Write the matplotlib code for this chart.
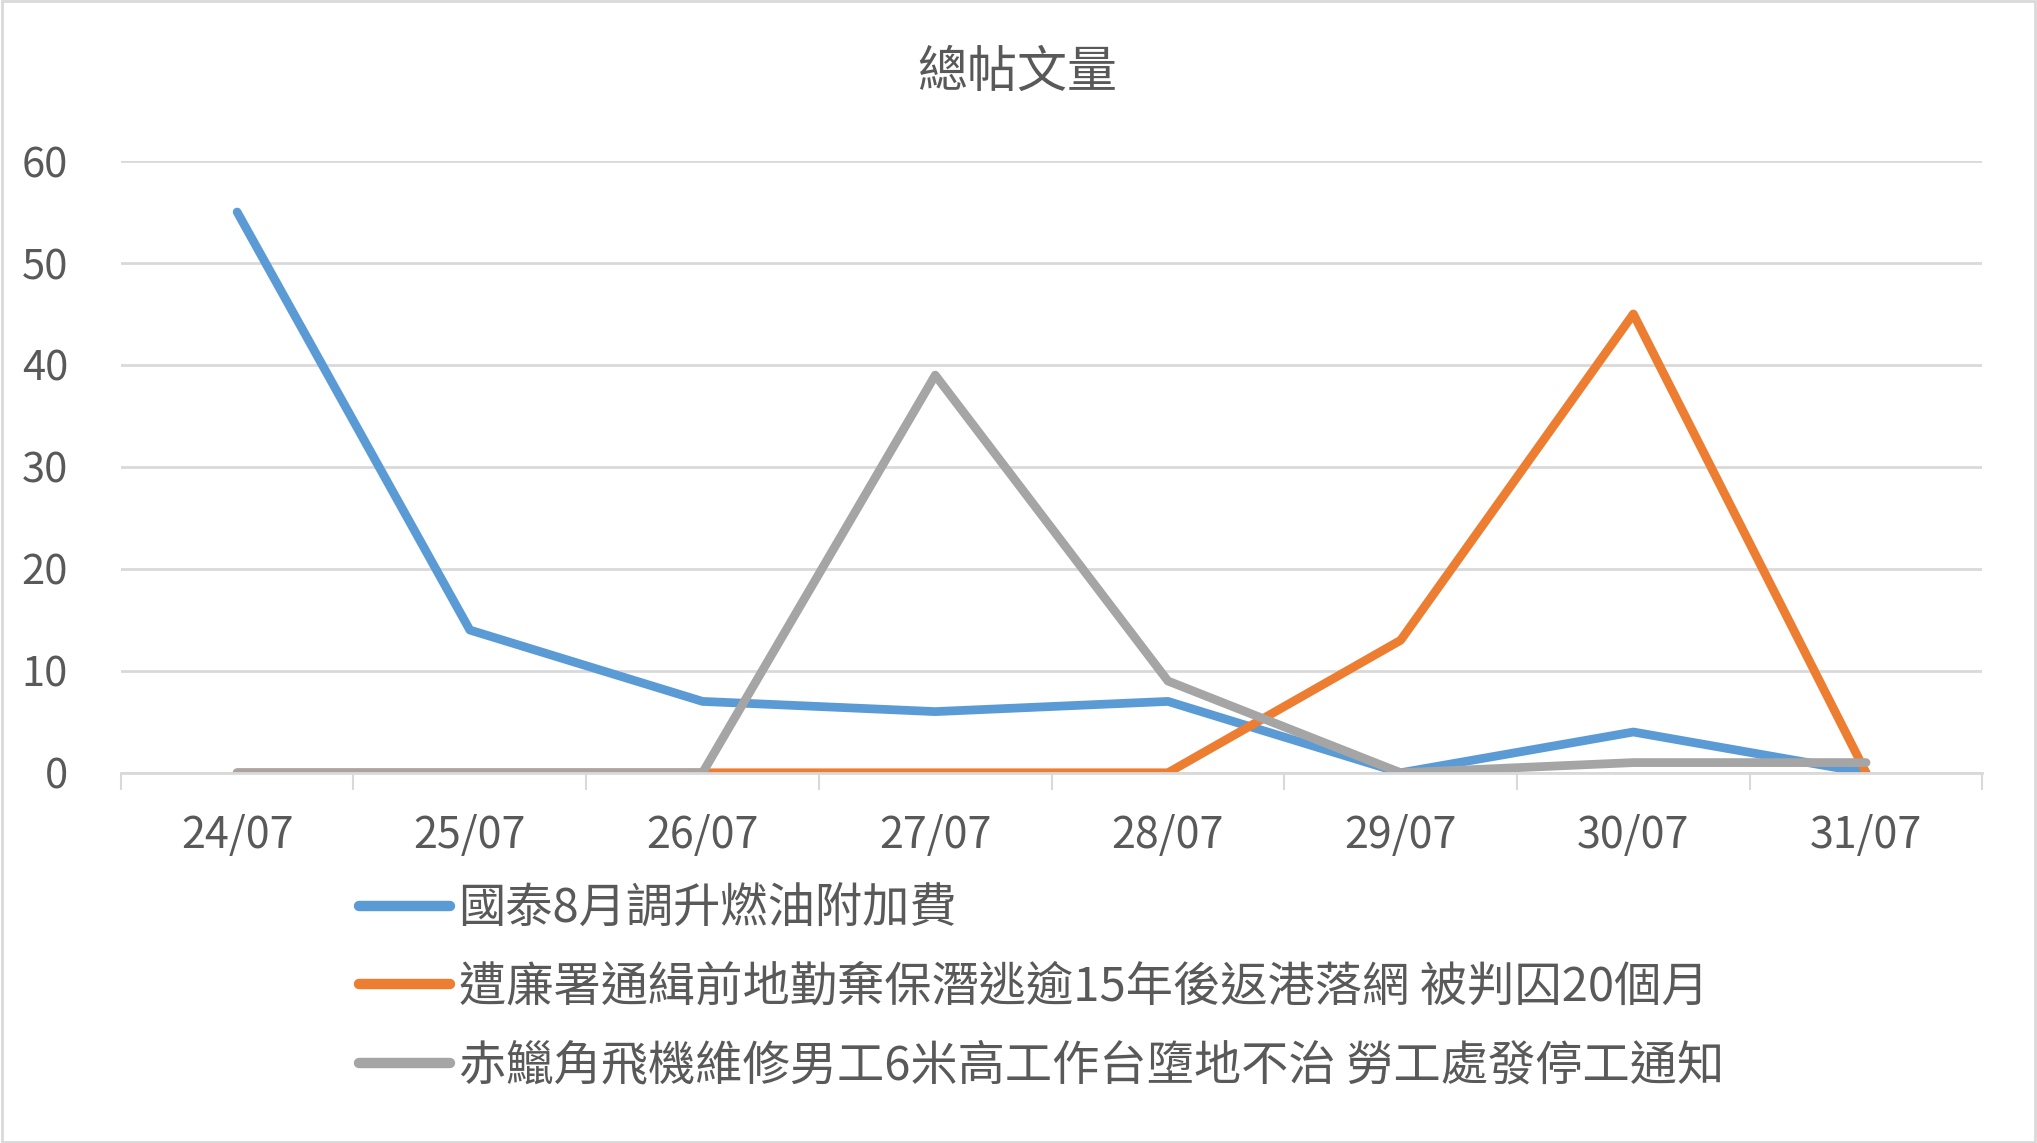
import matplotlib
matplotlib.use("Agg")
import matplotlib.pyplot as plt
from matplotlib.patches import Rectangle
import numpy as np

plt.rcParams['font.family'] = ['Noto Sans CJK TC', 'DejaVu Sans']

title = "總帖文量"
dates = ["24/07", "25/07", "26/07", "27/07", "28/07", "29/07", "30/07", "31/07"]
series_names = [
    "國泰8月調升燃油附加費",
    "遭廉署通緝前地勤棄保潛逃逾15年後返港落網 被判囚20個月",
    "赤鱲角飛機維修男工6米高工作台墮地不治 勞工處發停工通知",
]
cathay = [55, 14, 7, 6, 7, 0, 4, 0]
icac = [0, 0, 0, 0, 0, 13, 45, 0]
airport = [0, 0, 0, 39, 9, 0, 1, 1]
colors = ["#5B9BD5", "#ED7D31", "#A5A5A5"]
yticks = [0, 10, 20, 30, 40, 50, 60]

text_color = "#595959"
grid_color = "#D9D9D9"

fig = plt.figure(figsize=(20.37, 11.43), dpi=100)
ax = fig.add_axes([0.0593, 0.3239, 0.9139, 0.5352])

x = np.arange(len(dates))
for vals, name, c in zip([cathay, icac, airport], series_names, colors):
    ax.plot(x, vals, color=c, lw=6.3, label=name,
            solid_capstyle='round', solid_joinstyle='round')

ax.set_xlim(-0.5, len(dates) - 0.5)
ax.set_ylim(0, 60)
ax.set_yticks(yticks)
ax.set_yticklabels([str(v) for v in yticks], fontsize=30, color=text_color)
ax.tick_params(axis='y', length=0, pad=38)
ax.yaxis.grid(True, color=grid_color, lw=2)
ax.set_axisbelow(True)

# category boundaries as major ticks, labels at centers as minor ticks
ax.set_xticks(np.arange(-0.5, len(dates), 1.0))
ax.set_xticklabels([])
ax.tick_params(axis='x', which='major', length=12, width=1.5, color=grid_color)
ax.set_xticks(x, minor=True)
ax.set_xticklabels(dates, minor=True, fontsize=31, color=text_color)
ax.tick_params(axis='x', which='minor', length=0, pad=30)

for s in ['top', 'right', 'left']:
    ax.spines[s].set_visible(False)
ax.spines['bottom'].set_color(grid_color)
ax.spines['bottom'].set_linewidth(2)

fig.text(0.4994, 0.936, title, ha='center', va='center', fontsize=36,
         color=text_color)

leg = fig.legend(loc='upper left', bbox_to_anchor=(0.176, 0.226),
                 frameon=False, fontsize=34, handlelength=1.93,
                 handletextpad=0.19, labelspacing=0.64, borderpad=0,
                 borderaxespad=0)
for t in leg.get_texts():
    t.set_color(text_color)
for h in leg.legend_handles:
    h.set_linewidth(7.5)
    h.set_solid_capstyle('round')

fig.patches.append(Rectangle((0.0008, 0.0012), 0.9984, 0.9976,
                             transform=fig.transFigure, fill=False,
                             edgecolor=grid_color, lw=2))

fig.savefig("out.png", dpi=100, facecolor='white')
